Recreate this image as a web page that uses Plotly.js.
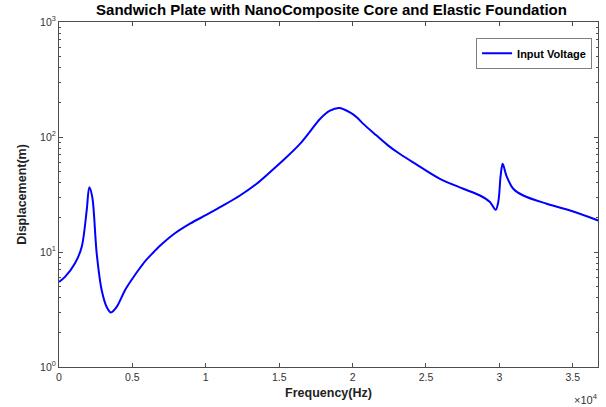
<!DOCTYPE html>
<html>
<head>
<meta charset="utf-8">
<script src="https://cdn.plot.ly/plotly-3.0.1.min.js"></script>
<style>html,body{margin:0;padding:0;background:#fff;}#chart{width:606px;height:407px;}</style>
</head>
<body>
<div id="chart"></div>
<script>
// Frequency (Hz)
const frequency = [0, 409, 1090, 1546, 1887, 2064, 2268, 2568, 2909, 3249, 3542, 3931, 4496, 5000, 5402, 5858, 6335, 6880, 7786, 8924, 10061, 11192, 12330, 13467, 14257, 15511, 16417, 17098, 17779, 18460, 19094, 19823, 20300, 20729, 21642, 22432, 23229, 24366, 25954, 27541, 28678, 29360, 29748, 29925, 30089, 30225, 30497, 30947, 31628, 33222, 35034, 36737];
// Displacement (m)
const displacement = [5.49, 6.07, 7.98, 11.05, 23.0, 36.6, 30.0, 9.74, 4.65, 3.33, 2.98, 3.33, 4.65, 5.86, 6.94, 8.30, 9.64, 11.32, 14.2, 17.63, 21.1, 25.4, 31.0, 39.2, 47.9, 66.9, 87.1, 111.4, 143.6, 169.4, 178.8, 163.7, 148, 130, 102.8, 84.2, 71.1, 57.6, 43.3, 35.5, 31.0, 27.2, 23.3, 27.2, 46.3, 58.4, 45.4, 35.5, 31.0, 26.3, 22.5, 18.8];
const seriesName = "Input Voltage";
const xTickVals = [0, 5000, 10000, 15000, 20000, 25000, 30000, 35000];
const xTickText = ["0", "0.5", "1", "1.5", "2", "2.5", "3", "3.5"];
const yTickVals = [1, 10, 100, 1000];
const yTickText = ["10<sup>0</sup>", "10<sup>1</sup>", "10<sup>2</sup>", "10<sup>3</sup>"];
const yMinorVals = [2,3,4,5,6,7,8,9,20,30,40,50,60,70,80,90,200,300,400,500,600,700,800,900];

const axisColor = "#4d4d4d";
const fam = "Liberation Sans, Arial, sans-serif";
const tickFont = {family: fam, size: 10.5, color: "#333333"};

const trace = {
  x: frequency, y: displacement, name: seriesName,
  type: "scatter", mode: "lines",
  line: {color: "#0000ff", width: 2, shape: "spline", smoothing: 0.9}
};
// invisible helper trace to host the minor-tick axis
const helper = {x: [0], y: [1], yaxis: "y2", type: "scatter", mode: "markers",
  marker: {opacity: 0}, showlegend: false, hoverinfo: "skip"};

const layout = {
  width: 606, height: 407,
  margin: {l: 59, r: 8, t: 22, b: 40},
  paper_bgcolor: "#ffffff", plot_bgcolor: "#ffffff",
  showlegend: true,
  legend: {x: 0.989, y: 0.954, xanchor: "right", yanchor: "top",
    bordercolor: "#7f7f7f", borderwidth: 1, bgcolor: "#ffffff",
    font: {family: fam, size: 11, color: "#000", weight: "bold"},
    tracegroupgap: 0, itemwidth: 30},
  title: {text: "<b>Sandwich Plate with NanoComposite Core and Elastic Foundation</b>",
    font: {family: fam, size: 15, color: "#000"},
    x: 0.547, xanchor: "center", y: 0.99, yanchor: "top"},
  xaxis: {
    range: [0, 36720], tickmode: "array", tickvals: xTickVals, ticktext: xTickText,
    ticks: "inside", ticklen: 4, tickcolor: axisColor, tickfont: tickFont,
    showline: true, linecolor: axisColor, linewidth: 1, mirror: "ticks",
    showgrid: false, zeroline: false,
    title: {text: "<b>Frequency(Hz)</b>", font: {family: fam, size: 12.5, color: "#222"}, standoff: 6}
  },
  yaxis: {
    type: "log", range: [0, 3], tickmode: "array", tickvals: yTickVals, ticktext: yTickText,
    ticks: "inside", ticklen: 4, tickcolor: axisColor, tickfont: tickFont,
    showline: true, linecolor: axisColor, linewidth: 1, mirror: "ticks",
    showgrid: false, zeroline: false,
    title: {text: "<b>Displacement(m)</b>", font: {family: fam, size: 12.5, color: "#222"}, standoff: 10}
  },
  yaxis2: {
    type: "log", range: [0, 3], overlaying: "y", side: "left",
    tickmode: "array", tickvals: yMinorVals, showticklabels: false,
    ticks: "inside", ticklen: 2, tickcolor: axisColor,
    showline: true, linecolor: axisColor, linewidth: 1, mirror: "ticks",
    showgrid: false, zeroline: false
  },
  annotations: [{
    text: "\u00d710<sup>4</sup>", xref: "paper", yref: "paper", x: 1.003, y: -0.068,
    xanchor: "right", yanchor: "top", showarrow: false,
    font: {family: fam, size: 11, color: "#333"}
  }]
};

Plotly.newPlot("chart", [trace, helper], layout, {displayModeBar: false, staticPlot: true});
</script>
</body>
</html>
